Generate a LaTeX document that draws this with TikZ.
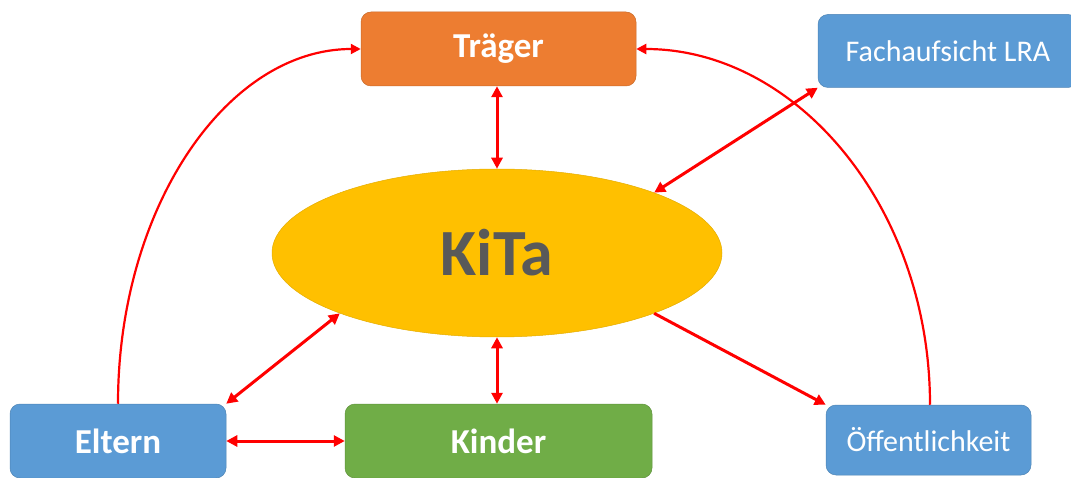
\documentclass[tikz,border=0pt]{standalone}
\usepackage{fontspec}
\setmainfont{Carlito}
\usetikzlibrary{arrows.meta,shapes.geometric}
\definecolor{orgC}{HTML}{ED7D31}
\definecolor{bluC}{HTML}{5B9BD5}
\definecolor{grnC}{HTML}{70AD47}
\definecolor{yelC}{HTML}{FFC000}
\definecolor{txtC}{HTML}{595959}
\definecolor{arrC}{HTML}{FF0000}
\tikzset{
  box/.style={rectangle, rounded corners=10pt, inner sep=0pt, text=white},
  boldlabel/.style={font=\fontsize{35}{40}\selectfont\bfseries},
  reglabel/.style={font=\fontsize{30}{36}\selectfont},
  conn/.style={draw=arrC, line width=3pt, arrows={Triangle[length=11pt,width=11pt]-Triangle[length=11pt,width=11pt]}},
  oneway/.style={draw=arrC, line width=3pt, arrows={-Triangle[length=11pt,width=11pt]}},
  curveconn/.style={draw=arrC, line width=2.2pt, arrows={-Triangle[length=10pt,width=10pt]}}
}
\begin{document}
\begin{tikzpicture}[x=1pt,y=1pt]
\useasboundingbox (0,0) rectangle (1071,477);
% boxes
\node[box, boldlabel, fill=orgC, draw=orgC!85!black, line width=0.5pt, minimum width=275pt, minimum height=74pt] (trager) at (498.5,428) {Träger};
\node[box, reglabel, fill=bluC, draw=bluC!85!black, line width=0.5pt, minimum width=260pt, minimum height=73pt] (fach) at (948,426) {Fachaufsicht LRA};
\node[ellipse, fill=yelC, draw=yelC!90!black, line width=0.5pt, inner sep=0pt, minimum width=450pt, minimum height=168pt, text=txtC, font=\fontsize{66}{72}\selectfont\bfseries] (kita) at (497,224) {KiTa};
\node[box, boldlabel, fill=bluC, draw=bluC!85!black, line width=0.5pt, minimum width=216pt, minimum height=74pt] (eltern) at (118,36) {Eltern};
\node[box, boldlabel, fill=grnC, draw=grnC!85!black, line width=0.5pt, minimum width=307pt, minimum height=74pt] (kinder) at (498.5,36) {Kinder};
\node[box, reglabel, fill=bluC, draw=bluC!85!black, line width=0.5pt, minimum width=205pt, minimum height=70pt] (oeff) at (928.5,37) {Öffentlichkeit};
% connectors
\draw[conn] (trager.south -| kita.north) -- (kita.north);
\draw[conn] (kita.21) -- (fach.south west);
\draw[conn] (kita.201) -- (eltern.north east);
\draw[conn] (kita.south) -- (kinder.north -| kita.south);
\draw[conn] (eltern.east) -- (kinder.west);
\draw[oneway] (kita.-21) -- (oeff.north west);
\draw[curveconn] (eltern.north) to[out=90, in=180, out distance=196pt, in distance=134pt] (trager.west);
\draw[curveconn] ([xshift=1.5pt]oeff.north) to[out=90, in=0, out distance=197pt, in distance=161pt] (trager.east);
\end{tikzpicture}
\end{document}
